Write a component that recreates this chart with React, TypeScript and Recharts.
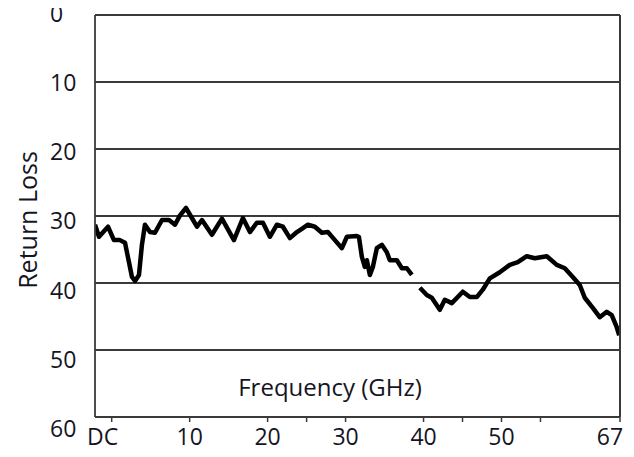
import { LineChart, Line, XAxis, YAxis, CartesianGrid, Label, ReferenceLine } from "recharts";

// frequency in GHz (axis end is labelled "67")
const freqGHz = [
  -2.14, -1.63, -0.47, 0.29, 1.06, 1.71, 2.22, 2.6, 2.99, 3.5, 3.88, 4.27, 4.91,
  5.55, 6.45, 7.35, 8.12, 8.76, 9.53, 10.29, 10.94, 11.58, 12.86, 14.14, 15.68,
  16.83, 17.73, 18.63, 19.4, 20.29, 21.19, 21.96, 22.86, 23.76, 24.53, 25.17,
  26.06, 26.96, 27.73, 28.63, 29.53, 30.17, 31.45, 31.71, 32.09, 32.47, 32.73,
  33.12, 33.5, 34.01, 34.65, 35.29, 35.68, 36.58, 37.22, 37.86, 38.5, 39.0,
  39.53, 40.42, 41.06, 42.09, 42.73, 43.63, 45.04, 45.94, 46.83, 47.6, 48.5,
  49.78, 51.06, 52.09, 53.24, 54.27, 55.81, 57.09, 58.12, 59.14, 60.04, 60.68,
  61.71, 62.6, 63.5, 64.14, 64.78, 65.1,
];

// return loss in dB, null = gap in the trace
const returnLossDb: (number | null)[] = [
  31.3, 33.1, 31.6, 33.6, 33.6, 34.0, 36.9, 39.1, 39.7, 38.8, 34.3, 31.3, 32.4,
  32.5, 30.6, 30.6, 31.3, 29.9, 28.8, 30.3, 31.6, 30.6, 32.8, 30.4, 33.6, 30.3,
  32.4, 31.0, 31.0, 33.1, 31.3, 31.6, 33.3, 32.4, 31.8, 31.3, 31.6, 32.5, 32.4,
  33.6, 34.8, 33.1, 33.0, 33.1, 36.1, 37.6, 36.6, 38.8, 37.6, 34.8, 34.3, 35.4,
  36.6, 36.6, 37.8, 37.8, 38.8, null, 40.7, 41.8, 42.2, 44.0, 42.5, 43.0, 41.3,
  42.1, 42.1, 41.0, 39.3, 38.4, 37.3, 36.9, 36.0, 36.3, 36.0, 37.3, 37.8, 39.1,
  40.3, 42.2, 43.7, 45.1, 44.3, 44.8, 46.6, 47.8,
];

const yTicks = [0, 10, 20, 30, 40, 50, 60];
const X_MIN = -2.14;
const X_END = 65.2;
const xTicks = [0, 10, 20, 25, 30, 40, 45, 50, 55, X_END];
const xLabels: Record<string, string> = {
  "0": "DC",
  "10": "10",
  "20": "20",
  "30": "30",
  "40": "40",
  "50": "50",
  [String(X_END)]: "67",
};

const data = freqGHz.map((f, i) => ({ f, rl: returnLossDb[i] }));

const FONT = "'Open Sans', 'Noto Sans', sans-serif";
const TEXT = "#15151f";
const GRID = "#3a3a3a";

function XTick(props: any) {
  const { x, payload } = props;
  const label = xLabels[String(payload.value)];
  if (!label) return <g />;
  const dx = payload.value === 0 ? -9 : payload.value === X_END ? -10 : 0;
  return (
    <text x={x + dx} y={445} textAnchor="middle" fontFamily={FONT} fontSize={23} fill={TEXT}>
      {label}
    </text>
  );
}

function YTick(props: any) {
  const { y, payload } = props;
  const drift = -1.5 + 0.22 * payload.value;
  return (
    <text x={50} y={y + drift} dy="0.36em" textAnchor="start" fontFamily={FONT} fontSize={23} fill={TEXT}>
      {payload.value}
    </text>
  );
}

export default function App() {
  return (
    <div style={{ marginTop: -8, marginLeft: -8, width: 634, height: 457 }}>
      <LineChart
        width={634}
        height={457}
        data={data}
        margin={{ top: 15, right: 0, bottom: 0, left: 0 }}
      >
        <CartesianGrid yAxisId="left" horizontal vertical={false} stroke={GRID} strokeWidth={1.8} />
        <XAxis
          dataKey="f"
          type="number"
          domain={[X_MIN, X_END]}
          allowDataOverflow
          ticks={xTicks}
          interval={0}
          height={40}
          tickSize={5}
          axisLine={{ stroke: GRID, strokeWidth: 1.8 }}
          tickLine={{ stroke: GRID, strokeWidth: 1.5 }}
          tick={<XTick />}
        >
          <Label
            content={() => (
              <text x={330} y={396} textAnchor="middle" fontFamily={FONT} fontSize={24} fill={TEXT}>
                Frequency (GHz)
              </text>
            )}
          />
        </XAxis>
        <YAxis
          yAxisId="left"
          type="number"
          domain={[0, 60]}
          reversed
          ticks={yTicks}
          interval={0}
          width={95}
          tickLine={false}
          axisLine={{ stroke: GRID, strokeWidth: 1.8 }}
          tick={<YTick />}
        >
          <Label
            content={() => (
              <text
                x={28}
                y={220}
                transform="rotate(-90 28 220)"
                dy="0.35em"
                textAnchor="middle"
                fontFamily={FONT}
                fontSize={25}
                fill={TEXT}
              >
                Return Loss
              </text>
            )}
          />
        </YAxis>
        <YAxis
          yAxisId="right"
          orientation="right"
          type="number"
          domain={[0, 60]}
          reversed
          ticks={yTicks}
          interval={0}
          width={14}
          tickSize={5}
          tick={false}
          axisLine={{ stroke: GRID, strokeWidth: 1.8 }}
          tickLine={{ stroke: GRID, strokeWidth: 1.8 }}
        />
        <ReferenceLine yAxisId="left" x={X_END} stroke={GRID} strokeWidth={2} />
        <Line
          yAxisId="left"
          dataKey="rl"
          type="linear"
          stroke="#000"
          strokeWidth={4.5}
          strokeLinejoin="round"
          dot={false}
          connectNulls={false}
          isAnimationActive={false}
        />
      </LineChart>
    </div>
  );
}
